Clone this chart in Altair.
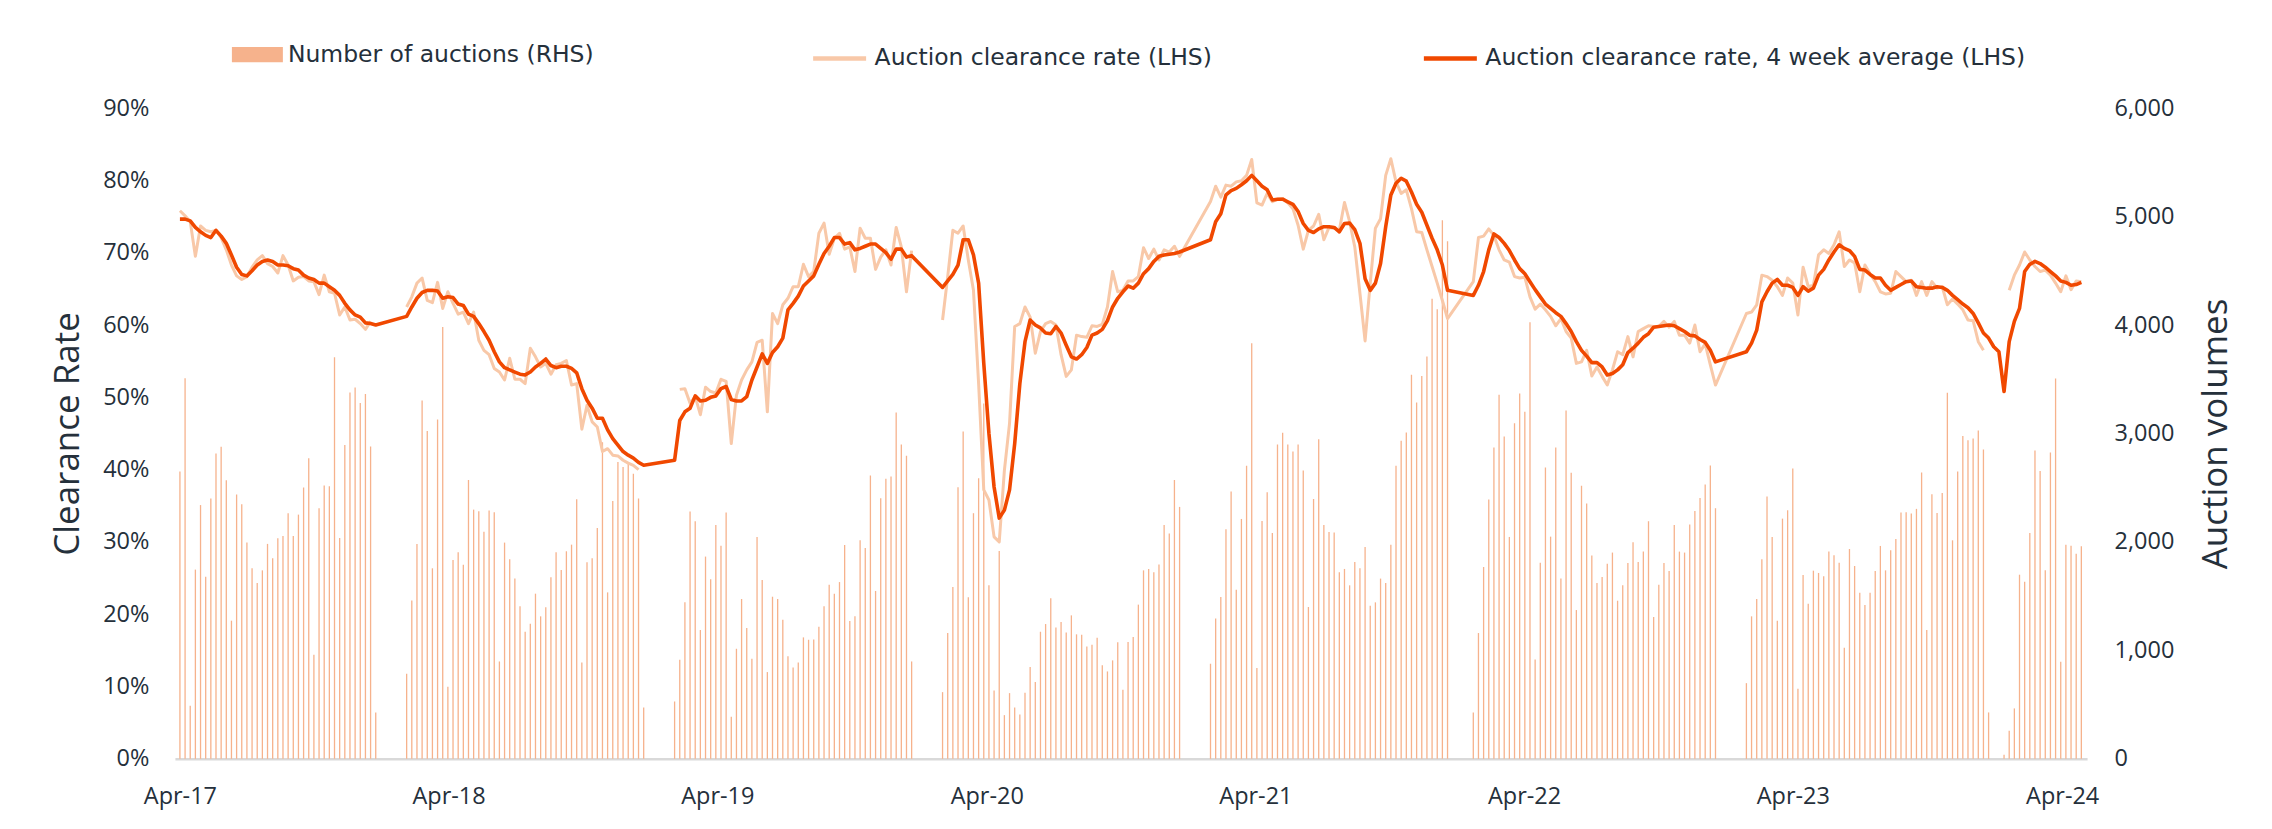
import altair as alt
import pandas as pd

# ---------------- data (weekly, Saturdays from 1 Apr 2017) ----------------
START = "2017-04-01"

auctions = [
    2650, 3510, 490, 1745, 2340, 1680, 2400, 2815, 2877, 2570,
    1274, 2437, 2348, 1994, 1757, 1622, 1738, 1982, 1849, 2034,
    2055, 2265, 2055, 2252, 2502, 2772, 960, 2311, 2520, 2514,
    3702, 2037, 2895, 3378, 3425, 3280, 3363, 2880, 428, None,
    None, None, None, None, 785, 1460, 1980, 3305, 3022, 1757,
    3129, 3981, 665, 1834, 1905, 1790, 2572, 2298, 2283, 2095,
    2289, 2274, 898, 1994, 1840, 1662, 1406, 1172, 1246, 1523,
    1314, 1397, 1674, 1905, 1742, 1914, 1975, 2394, 889, 1812,
    1849, 2129, 2920, 1535, 2378, 2738, 2692, 2720, 2628, 2400,
    474, None, None, None, None, None, 529, 914, 1443, 2280,
    2190, 1188, 1865, 1655, 2157, 1966, 2271, 388, 1015, 1474,
    1206, 923, 2046, 1649, 800, 1495, 1474, 1283, 945, 843,
    889, 1120, 1098, 1100, 1218, 1406, 1606, 1523, 1630, 1972,
    1271, 1314, 2015, 1945, 2612, 1548, 2403, 2582, 2603, 3194,
    2898, 2794, 898, None, None, None, None, None, 615, 1160,
    1585, 2505, 3018, 1489, 2265, 2588, 3277, 1600, 630, 1917,
    403, 606, 474, 409, 609, 846, 708, 1172, 1243, 1480,
    1212, 1262, 1166, 1323, 1148, 1145, 1037, 1052, 1117, 862,
    806, 908, 1074, 637, 1077, 1123, 1422, 1738, 1751, 1720,
    1791, 2157, 2077, 2572, 2323, None, None, None, None, None,
    877, 1295, 1492, 2117, 2465, 1560, 2212, 2702, 3831, 837,
    2194, 2458, 2083, 2898, 3006, 2898, 2834, 2898, 2658, 1400,
    2397, 2948, 2157, 2092, 2086, 1720, 1751, 1600, 1815, 1757,
    1954, 1412, 1443, 1662, 1622, 1975, 2702, 2932, 3009, 3542,
    3286, 3530, 3711, 4243, 4145, 4966, 4772, None, None, None,
    None, 428, 1160, 1769, 2391, 2871, 3357, 2972, 2046, 3095,
    3369, 3200, 4025, 917, 1809, 2686, 2049, 2871, 1662, 3212,
    2637, 1372, 2517, 2354, 1874, 1622, 1677, 1800, 1902, 1458,
    1600, 1806, 1997, 1815, 1911, 2191, 1308, 1606, 1806, 1732,
    2157, 1911, 1902, 2160, 2286, 2406, 2529, 2705, 2311, None,
    None, None, None, None, 698, 1314, 1474, 1840, 2418, 2046,
    1274, 2215, 2292, 2677, 646, 1695, 1431, 1735, 1714, 1683,
    1911, 1877, 1809, 1025, 1935, 1778, 1532, 1418, 1532, 1732,
    1963, 1738, 1923, 2028, 2271, 2274, 2262, 2305, 2640, 1188,
    2440, 2268, 2452, 3375, 2015, 2649, 2978, 2938, 2954, 3028,
    2852, 428, None, None, 37, 258, 465, 1698, 1634, 2083,
    2843, 2655, 1738, 2825, 3508, 895, 1975, 1966, 1892, 1960,
]

clearance = [
    75.8, 75.1, 74.3, 69.5, 73.7, 73.1, 72.9, 73.1, 72.1, 70.4,
    68.3, 66.8, 66.3, 66.7, 68.0, 69.0, 69.6, 68.5, 68.1, 67.2,
    69.6, 68.3, 66.1, 66.6, 66.7, 66.1, 66.0, 64.2, 66.9, 64.6,
    64.4, 61.4, 62.5, 60.7, 60.8, 60.2, 59.4, 60.5, None, None,
    None, None, None, None, 62.5, 63.9, 65.8, 66.5, 63.4, 63.1,
    65.9, 62.3, 64.6, 63.0, 61.5, 61.8, 60.2, 61.8, 57.9, 56.5,
    55.9, 54.0, 53.5, 52.4, 55.4, 52.5, 52.5, 51.9, 56.8, 55.6,
    54.2, 54.7, 53.2, 54.5, 54.7, 55.1, 51.7, 51.9, 45.6, 48.9,
    46.6, 45.9, 42.5, 42.9, 42.0, 41.9, 41.3, 40.9, 40.6, 40.0,
    None, None, None, None, None, None, None, 51.1, 51.2, 49.2,
    50.1, 47.6, 51.4, 50.8, 50.6, 52.5, 52.2, 43.6, 50.3, 52.4,
    53.8, 54.9, 57.6, 57.9, 48.0, 61.6, 60.2, 62.8, 63.7, 65.3,
    65.3, 68.4, 66.7, 67.4, 72.7, 74.1, 69.8, 72.0, 72.7, 70.5,
    70.8, 67.4, 73.4, 72.0, 72.0, 67.7, 69.4, 70.4, 68.3, 73.5,
    70.8, 64.6, 70.3, None, None, None, None, None, 60.7, 66.7,
    73.1, 72.7, 73.7, 69.0, 64.8, 51.9, 37.2, 35.8, 30.7, 30.0,
    39.9, 46.4, 59.8, 60.2, 62.5, 61.1, 56.1, 59.1, 60.2, 60.5,
    60.0, 55.9, 52.9, 53.8, 58.6, 58.4, 58.3, 59.9, 59.8, 60.1,
    62.5, 67.4, 64.6, 64.8, 66.1, 66.1, 66.7, 70.7, 69.2, 70.5,
    69.0, 70.4, 70.1, 70.9, 69.5, None, None, None, None, None,
    77.1, 79.2, 77.7, 79.35, 79.2, 79.8, 79.95, 80.7, 82.9, 76.9,
    76.6, 78.2, 77.05, 77.4, 77.5, 76.9, 76.1, 73.8, 70.5, 73.1,
    73.7, 75.3, 71.8, 73.5, 73.4, 73.1, 76.96, 74.3, 70.8, 64.4,
    57.8, 65.8, 73.4, 74.7, 80.7, 83.0, 79.8, 78.2, 78.7, 76.1,
    72.9, 72.8, 70.4, 68.1, 65.8, 63.4, 60.9, None, None, None,
    None, 66.0, 72.1, 72.3, 73.3, 72.4, 70.4, 69.0, 68.7, 66.7,
    66.5, 66.6, 63.9, 62.2, 62.9, 62.1, 61.2, 59.9, 60.9, 59.1,
    58.2, 54.7, 54.9, 56.5, 52.95, 54.2, 52.9, 51.7, 53.8, 56.3,
    55.9, 58.4, 55.6, 59.1, 59.5, 59.9, 59.8, 59.8, 60.5, 59.7,
    60.5, 58.6, 58.6, 57.5, 60.0, 56.3, 57.4, 54.5, 51.7, None,
    None, None, None, None, 61.6, 61.8, 62.8, 66.9, 66.7, 66.2,
    65.3, 64.1, 66.5, 65.8, 61.4, 68.0, 65.3, 65.5, 69.7, 70.4,
    69.9, 71.1, 72.9, 68.1, 69.0, 68.6, 64.6, 68.3, 67.1, 66.0,
    64.6, 64.3, 64.4, 67.4, 66.7, 66.0, 66.2, 64.1, 66.0, 64.1,
    66.0, 65.1, 65.3, 62.8, 63.6, 62.9, 62.1, 60.7, 60.6, 57.7,
    56.5, None, None, None, None, 64.8, 66.9, 68.3, 70.1, 69.0,
    68.1, 67.4, 67.6, 66.9, 65.8, 64.6, 66.8, 64.9, 66.1, 66.0,
]

avg4 = [
    74.65, 74.65, 74.4, 73.5, 72.9, 72.4, 72.1, 73.1, 72.3, 71.3,
    69.7, 68.0, 67.0, 66.8, 67.5, 68.3, 68.8, 69.0, 68.8, 68.3,
    68.3, 68.2, 67.8, 67.6, 66.9, 66.5, 66.3, 65.8, 65.8, 65.3,
    64.8, 64.1, 63.0, 62.1, 61.4, 61.1, 60.3, 60.2, 60.0, None,
    None, None, None, None, 61.2, 62.5, 63.7, 64.5, 64.8, 64.8,
    64.7, 63.7, 63.9, 63.8, 62.9, 62.7, 61.5, 61.2, 60.2, 59.1,
    57.9, 56.3, 54.9, 54.1, 53.8, 53.5, 53.2, 53.1, 53.5, 54.2,
    54.7, 55.3, 54.4, 54.1, 54.3, 54.3, 54.0, 53.4, 51.2, 49.6,
    48.5, 47.1, 47.1, 45.5, 44.3, 43.4, 42.5, 42.0, 41.6, 41.0,
    40.6, None, None, None, None, None, 41.3, 46.8, 48.0, 48.5,
    50.2, 49.5, 49.6, 50.0, 50.2, 51.2, 51.5, 49.7, 49.5, 49.5,
    50.1, 52.4, 54.2, 56.0, 54.7, 56.2, 57.0, 58.2, 62.1, 63.0,
    64.0, 65.4, 66.1, 66.8, 68.4, 69.9, 70.9, 72.1, 72.1, 71.2,
    71.4, 70.4, 70.6, 70.9, 71.2, 71.2, 70.6, 70.0, 69.1, 70.5,
    70.5, 69.4, 69.6, None, None, None, None, None, 65.2, 66.1,
    67.0, 68.3, 71.8, 71.8, 69.7, 65.8, 54.7, 45.0, 37.6, 33.3,
    34.4, 37.2, 43.6, 51.9, 57.7, 60.7, 60.0, 59.6, 58.9, 58.8,
    59.8, 58.9, 57.2, 55.6, 55.3, 55.9, 56.9, 58.6, 58.9, 59.4,
    60.6, 62.5, 63.7, 64.6, 65.4, 65.1, 65.8, 67.1, 67.8, 68.8,
    69.5, 69.7, 69.8, 69.9, 70.1, None, None, None, None, None,
    71.8, 74.3, 75.4, 78.0, 78.6, 78.9, 79.4, 79.95, 80.7, 79.95,
    79.2, 78.7, 77.3, 77.4, 77.4, 77.05, 76.7, 75.7, 74.05, 73.1,
    72.8, 73.3, 73.6, 73.6, 73.5, 72.9, 74.05, 74.1, 73.2, 71.3,
    66.4, 64.8, 65.8, 68.5, 73.6, 78.0, 79.6, 80.3, 79.9, 78.4,
    76.7, 75.6, 73.8, 72.0, 70.4, 68.3, 64.8, None, None, None,
    None, 64.1, 65.5, 67.4, 70.4, 72.6, 72.1, 71.3, 70.3, 69.0,
    67.8, 67.1, 66.0, 64.9, 63.9, 62.9, 62.3, 61.7, 61.2, 60.2,
    59.1, 57.7, 56.5, 55.7, 54.8, 54.8, 54.2, 53.1, 53.3, 53.8,
    54.5, 56.2, 56.8, 57.5, 58.3, 58.8, 59.7, 59.8, 59.9, 60.0,
    59.9, 59.5, 59.1, 58.6, 58.5, 58.0, 57.6, 56.5, 54.9, None,
    None, None, None, None, 56.3, 57.5, 59.3, 63.2, 64.6, 65.8,
    66.3, 65.5, 65.5, 65.2, 64.1, 65.3, 64.7, 65.1, 66.9, 67.7,
    69.0, 70.1, 71.1, 70.6, 70.3, 69.5, 67.7, 67.6, 67.0, 66.5,
    66.5, 65.5, 64.8, 65.2, 65.6, 66.0, 66.1, 65.3, 65.2, 65.1,
    65.1, 65.3, 65.2, 64.8, 64.1, 63.5, 62.9, 62.4, 61.6, 60.3,
    58.9, 58.2, 57.0, 56.3, 50.8, 57.7, 60.5, 62.3, 67.4, 68.4,
    68.8, 68.5, 68.0, 67.4, 66.8, 66.1, 65.9, 65.5, 65.6, 65.9,
]

# weeks where the weekly clearance-rate line restarts after a break
light_breaks = ["2018-02-03", "2019-02-09", "2020-02-01", "2024-01-20"]

pct_ticks = [0, 10, 20, 30, 40, 50, 60, 70, 80, 90]
vol_ticks = [0, 1000, 2000, 3000, 4000, 5000, 6000]
year_ticks = [2017, 2018, 2019, 2020, 2021, 2022, 2023, 2024]

BAR = "Number of auctions (RHS)"
LIGHT = "Auction clearance rate (LHS)"
DARK = "Auction clearance rate, 4 week average (LHS)"

# ---------------- tables ----------------
dates = pd.date_range(START, periods=len(auctions), freq="7D").strftime("%Y-%m-%d").tolist()

bars_df = pd.DataFrame({"date": dates, "value": auctions, "series": BAR}).dropna(subset=["value"])
light_df = pd.DataFrame({"date": dates, "value": clearance, "series": LIGHT})
light_df["seg"] = [sum(d >= b for b in light_breaks) for d in dates]
light_df = light_df.dropna(subset=["value"])
dark_df = pd.DataFrame({"date": dates, "value": avg4, "series": DARK}).dropna(subset=["value"])

# ---------------- styling ----------------
FONT = "Open Sans"
LEG_FONT = "DejaVu Sans"
TXT = "#25303B"
BAR_COLOR = "#F6B28C"
LIGHT_COLOR = "#F8C8A8"
DARK_COLOR = "#F04800"

x_enc = alt.X(
    "date:T",
    title=None,
    scale=alt.Scale(
        type="utc",
        domain=[alt.DateTime(year=2017, month=4, date=1, utc=True),
                alt.DateTime(year=2024, month=4, date=28, utc=True)],
    ),
    axis=alt.Axis(
        values=[alt.DateTime(year=y, month=4, date=1, utc=True) for y in year_ticks],
        labelExpr="utcFormat(datum.value, '%b-%y')",
        labelFlush=False, labelOverlap=False,
        ticks=False, grid=False,
        domain=True, domainColor="#D9D9D9", domainWidth=2.5,
        labelPadding=26, labelFontSize=23.5, labelFont=FONT, labelColor=TXT,
    ),
)

bar_legend = alt.Legend(
    title=None, orient="none", legendX=57, legendY=-79,
    symbolType="M-1,-0.3H1V0.3H-1Z", symbolSize=2601, symbolStrokeWidth=0,
    labelFont=LEG_FONT, labelFontSize=23.5, labelColor=TXT, labelOffset=5,
    labelLimit=1000, padding=0,
)

line_legend = alt.Legend(
    title=None, orient="none", legendX=636, legendY=-79, direction="horizontal",
    symbolType="stroke", symbolSize=2809, symbolStrokeWidth=4.5,
    labelFont=LEG_FONT, labelFontSize=23.5, labelColor=TXT, labelOffset=6,
    labelLimit=1000, columnPadding=202, padding=0,
)

bars = alt.Chart(bars_df).mark_bar(width=1.3).encode(
    x=x_enc,
    y=alt.Y(
        "value:Q",
        scale=alt.Scale(domain=[0, 6000], nice=False),
        axis=alt.Axis(
            orient="right", values=vol_ticks, format=",.0f",
            title="Auction volumes", titleAngle=270, titleBaseline="top",
            titleFont=FONT, titleFontSize=35, titleFontWeight="normal", titleColor=TXT,
            titlePadding=25,
            labelFont=FONT, labelFontSize=23.5, labelColor=TXT, labelPadding=27,
            domain=False, ticks=False, grid=False,
        ),
    ),
    fill=alt.Fill("series:N", scale=alt.Scale(domain=[BAR], range=[BAR_COLOR]), legend=bar_legend),
)

y_left = alt.Y(
    "value:Q",
    scale=alt.Scale(domain=[0, 90], nice=False),
    axis=alt.Axis(
        orient="left", values=pct_ticks, labelExpr="datum.value + '%'",
        title="Clearance Rate",
        titleFont=FONT, titleFontSize=35, titleFontWeight="normal", titleColor=TXT,
        titlePadding=17,
        labelFont=FONT, labelFontSize=23.5, labelColor=TXT, labelPadding=26,
        domain=False, ticks=False, grid=False,
    ),
)
stroke_scale = alt.Scale(domain=[LIGHT, DARK], range=[LIGHT_COLOR, DARK_COLOR])

light = alt.Chart(light_df).mark_line(strokeWidth=3, strokeJoin="round").encode(
    x=x_enc, y=y_left,
    stroke=alt.Stroke("series:N", scale=stroke_scale, legend=line_legend),
    detail="seg:N",
)
dark = alt.Chart(dark_df).mark_line(strokeWidth=3.6, strokeJoin="round").encode(
    x=x_enc, y=y_left,
    stroke=alt.Stroke("series:N", scale=stroke_scale, legend=line_legend),
)

lines = alt.layer(light, dark)

chart = (
    alt.layer(bars, lines)
    .resolve_scale(y="independent")
    .properties(
        width=1913, height=651,
        autosize=alt.AutoSizeParams(type="none"),
        padding={"left": 167, "top": 100, "right": 177, "bottom": 60},
        view=alt.ViewBackground(stroke="transparent", strokeWidth=0),
    )
    .configure_view(stroke="transparent", strokeWidth=0)
    .configure_axis(gridOpacity=0)
    .configure(font=FONT)
)

chart.save("out.html", embed_options={"renderer": "svg", "actions": False})
